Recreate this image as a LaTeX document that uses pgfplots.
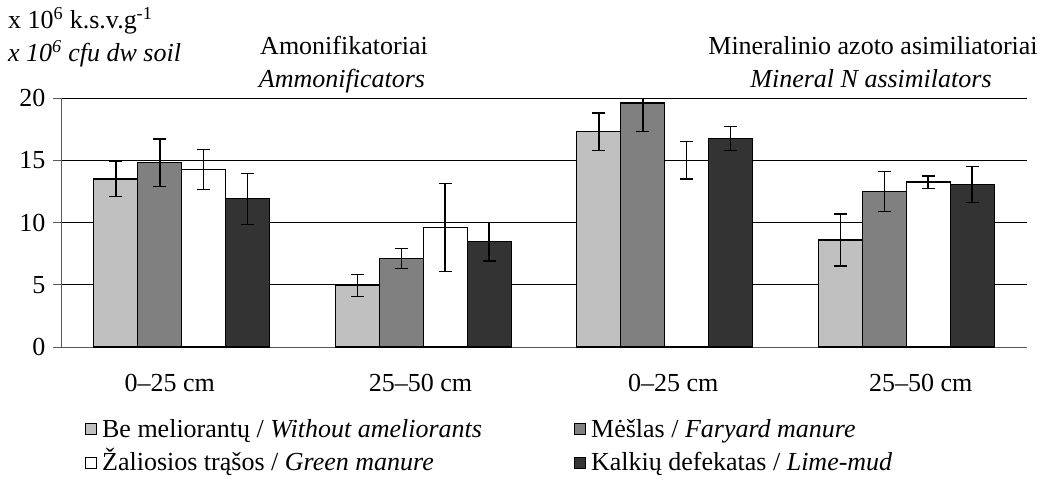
\documentclass[border=0pt]{standalone}
\usepackage{fontspec}
\setmainfont{Liberation Serif}
\usepackage{pgfplots}
\pgfplotsset{compat=1.18}
\definecolor{barA}{HTML}{C0C0C0}
\definecolor{barB}{HTML}{808080}
\definecolor{barC}{HTML}{FFFFFF}
\definecolor{barD}{HTML}{333333}
\newcommand{\bigf}{\fontsize{26}{30}\selectfont}
\newcommand{\st}{\rule[-7pt]{0pt}{30pt}}
\begin{document}
\begin{tikzpicture}[font=\bigf]
\path (0pt,0pt) rectangle (1043pt,-486pt);
\begin{axis}[
  at={(61pt,-347pt)}, anchor=south west,
  scale only axis, width=966pt, height=249pt,
  xmin=-0.5, xmax=3.5, ymin=0, ymax=20,
  axis x line=bottom, axis y line=left,
  axis line style={-, draw=black!65, line width=1pt},
  ybar, bar width=0.182,
  ytick={0,5,10,15,20},
  ymajorgrids, grid style={black, line width=0.8pt},
  tick align=outside,
  major tick length=8pt,
  ytick style={draw=black!65, line width=1pt},
  xtick={-0.05,0.989,2.035,3.06},
  xticklabels={0--25 cm, 25--50 cm, 0--25 cm, 25--50 cm},
  xtick style={draw=none},
  extra x ticks={-0.5,0.5,1.5,2.5,3.5},
  extra x tick labels={},
  extra x tick style={grid=none, tick style={draw=black!65, line width=1pt}},
  xticklabel style={font=\bigf, yshift=-16pt},
  yticklabel style={font=\bigf, xshift=-4pt},
  /pgf/number format/assume math mode=true,
  legend columns=2,
  legend cell align=left,
  legend image code/.code={\draw[#1, line width=1pt] (0pt,-8pt) rectangle (11pt,3pt);},
  legend style={at={(axis description cs:0.0248,-0.266)}, anchor=north west,
    draw=none, fill=none, inner sep=0pt, font=\bigf,
    nodes={inner sep=1pt},
    /tikz/every odd column/.append style={column sep=4pt},
    row sep=7pt},
  error bars/error bar style={line width=1.5pt, black},
  error bars/error mark options={rotate=90, mark size=6.5pt, line width=1.5pt, black},
]
\addplot[fill=barA, draw=black, line width=1.2pt, bar shift=-0.273,
  error bars/.cd, y dir=both, y explicit] coordinates {
  (0,13.5) +- (0,1.4)
  (1,4.95) +- (0,0.88)
  (2,17.3) +- (0,1.5)
  (3,8.6) +- (0,2.1)
};
\addlegendentry{\makebox[471pt][l]{\st Be meliorantų / \textit{Without ameliorants}}}
\addplot[fill=barB, draw=black, line width=1.2pt, bar shift=-0.091,
  error bars/.cd, y dir=both, y explicit] coordinates {
  (0,14.8) +- (0,1.9)
  (1,7.1) +- (0,0.8)
  (2,19.6) +- (0,2.3)
  (3,12.5) +- (0,1.6)
};
\addlegendentry{\st Mėšlas / \textit{Faryard manure}}
\addplot[fill=barC, draw=black, line width=1.2pt, bar shift=0.091,
  error bars/.cd, y dir=both, y explicit] coordinates {
  (0,14.25) +- (0,1.6)
  (1,9.6) +- (0,3.55)
  (2,15.0) +- (0,1.52)
  (3,13.25) +- (0,0.5)
};
\addlegendentry{\makebox[471pt][l]{\st Žaliosios trąšos / \textit{Green manure}}}
\addplot[fill=barD, draw=black, line width=1.2pt, bar shift=0.273,
  error bars/.cd, y dir=both, y explicit] coordinates {
  (0,11.9) +- (0,2.05)
  (1,8.45) +- (0,1.55)
  (2,16.75) +- (0,0.97)
  (3,13.05) +- (0,1.46)
};
\addlegendentry{\st Kalkių defekatas / \textit{Lime-mud}}
\end{axis}
\node[anchor=base west, inner sep=0pt] at (8pt,-29pt) {x 10\textsuperscript{6} k.s.v.g\textsuperscript{-1}};
\node[anchor=base west, inner sep=0pt] at (8pt,-62pt) {\textit{x 10\textsuperscript{6} cfu dw soil}};
\node[anchor=base, inner sep=0pt] at (344pt,-55pt) {Amonifikatoriai};
\node[anchor=base, inner sep=0pt] at (342pt,-88pt) {\textit{Ammonificators}};
\node[anchor=base, inner sep=0pt] at (873pt,-55pt) {Mineralinio azoto asimiliatoriai};
\node[anchor=base, inner sep=0pt] at (871pt,-88pt) {\textit{Mineral N assimilators}};
\end{tikzpicture}
\end{document}
